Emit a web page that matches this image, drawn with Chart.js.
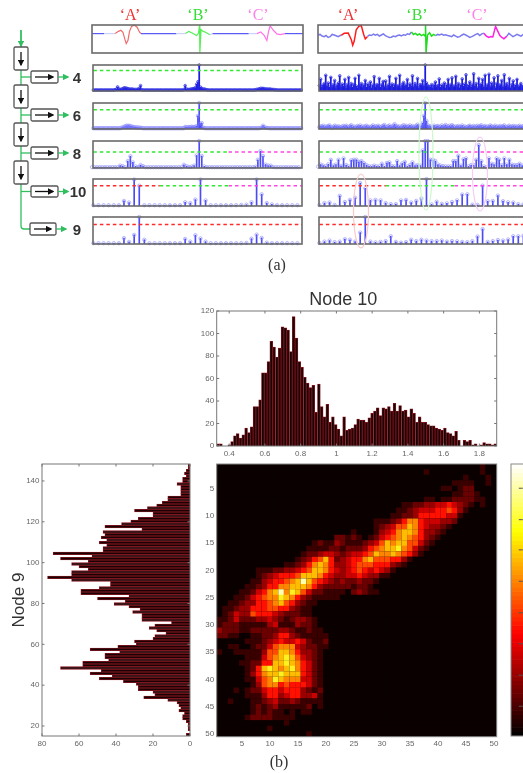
<!DOCTYPE html>
<html><head><meta charset="utf-8">
<script src="https://cdn.jsdelivr.net/npm/chart.js@4"></script>
<style>
html,body{margin:0;padding:0;background:#fff;overflow:hidden;width:523px;height:773px}
#stage{position:absolute;left:0;top:0;width:523px;height:773px;overflow:hidden;filter:blur(.55px)}
canvas{position:absolute}
.t{position:absolute;white-space:nowrap;font-family:"Liberation Serif",serif;line-height:1}
svg{position:absolute;left:0;top:0}
</style></head><body><div id="stage"></div>
<script>
/* ---------- (a) signals ---------- */
const leftSigX=[0,12,23,26.3,28.7,30.7,32.7,34,35.7,37.3,39.3,42,44.7,47.3,48.7,84,93,96.3,99.7,104,106,107,107.3,108.5,110.7,113,117.3,120,156,164,168,171.3,174,175.7,177.3,180.7,184,187.3,192,210];
const leftSigY=[69,69,69,77,81,74,48,33,44,77,95,99,93,74,69,69,69,77,71,62,71,100,0,83,77,74,65,69,69,69,75,63,44,77,97,80,68,65,69,69];
const rightSigX=[0,2,4,6,8,10,12,14,16,18,20,22,23,26,30,33,34.5,36,38,40.5,43,45.5,47,49,51,53,55,57,59,61,63,65,67,69,71,73,75,77,79,81,83,85,87,89,91,93,95,97,99,101,103,105,106.5,107,107.5,109,111,113,115,117,119,121,123,125,127,129,131,133,135,137,139,141,143,145,147,149,151,153,155,157,159,161,163,165,167.5,170,172,174,176.7,179,181,183,185,188,190,192,194,196,198,200,202,204,206,208,210];
const rightSigY=[64,66,60,58,62,55,58,66,64,61,58,62,63,70,71,48,27,42,83,95,98,65,50,58,64,62,67,63,66,60,64,68,62,58,55,56,60,58,62,64,61,65,63,68,66,75,66,70,64,68,62,66,60,100,0,64,72,60,66,62,66,64,67,63,65,62,60,58,64,60,56,58,63,67,64,60,55,58,62,66,69,62,68,70,60,55,58,57,95,77,62,55,50,60,70,64,58,62,66,63,60,65,68,62,64];
/* ---------- (a) stem rows, percent of panel height ---------- */
const left4=[3,3,3,3,3,3,3,3,3,3,3,3,3,3,3,3,3,4,6,15,
7,5,6,8,11,11,10,8,7,6,7,6,5,5,5,6,9,20,4,3,
3,3,3,3,3,3,3,3,3,3,3,3,3,3,3,3,3,3,3,3,
3,3,3,3,3,3,3,3,3,3,3,5,20,7,5,5,6,7,8,9,
12,25,35,100,14,9,6,7,5,4,3,3,3,3,3,3,3,3,3,3,
3,3,3,3,3,3,3,3,3,3,3,3,3,3,3,3,3,3,3,3,
3,3,3,3,3,3,3,4,5,6,7,9,9,9,8,7,7,6,7,6,
5,5,4,4,3,3,3,3,3,3,3,3,3,3,3,3,3,3,3,3,3,3,3,3];
const left6=[2,2,2,2,2,2,2,2,2,2,2,2,2,2,2,2,2,2,2,2,
2,2,4,5,7,10,12,11,12,10,9,7,6,6,5,5,4,4,3,2,
2,2,2,2,2,2,2,2,2,2,2,2,2,2,2,2,2,2,2,2,
2,2,2,2,2,2,2,2,2,2,2,2,7,6,5,7,6,8,7,6,
8,10,50,100,20,22,5,3,2,2,2,2,2,2,2,2,2,2,2,2,
2,2,2,2,2,2,2,2,2,2,2,2,2,2,2,2,2,2,2,2,
2,2,2,2,2,2,2,2,2,2,2,3,4,12,6,4,3,3,2,2,
2,2,2,2,2,2,2,2,2,2,2,2,2,2,2,2,2,2,2,2,2,2,2,2];
const left8=[2,2,2,2,2,2,2,2,2,2,2,8,6,2,25,43,20,5,3,10,6,2,2,2,2,2,2,2,2,2,2,2,2,2,2,2,11,6,3,4,8,46,100,44,5,2,2,2,2,2,2,2,2,2,2,2,2,2,2,2,2,2,2,2,4,30,62,44,12,8,8,3,2,2,2,2,2,2,2,2,2,2];
const left10=[2,2,2,2,2,2,18,12,98,75,2,2,2,2,2,2,2,2,13,10,23,98,20,2,2,2,2,2,2,3,4,13,98,43,10,5,2,2,2,2,2];
const left9=[2,2,2,2,2,2,21,7,33,100,15,2,2,2,2,2,2,2,18,8,32,20,8,2,2,2,2,2,2,2,3,19,34,22,4,2,2,2,2,2,2];
const right4=[20,45,15,22,28,60,18,30,14,52,16,24,40,12,22,30,58,16,26,18,
44,12,24,52,16,28,14,24,48,18,12,60,20,28,16,22,40,14,26,18,
34,12,22,55,16,24,20,48,14,24,36,16,38,12,22,56,18,26,14,24,
48,16,20,60,12,24,32,18,22,44,14,26,18,58,16,28,20,48,12,24,
22,40,18,100,30,20,16,14,24,12,22,34,16,20,46,14,22,18,30,12,
22,44,16,24,50,14,20,56,16,28,12,22,46,18,26,62,16,22,34,14,
24,66,18,28,12,48,20,26,44,14,60,16,24,64,16,30,20,50,12,28,
58,18,24,40,14,62,20,28,16,48,12,24,38,16,22,44,14,20,28,16,18,36,22,24];
const right6=[6,10,8,12,5,9,7,11,13,6,4,8,12,9,6,10,7,5,9,11,
7,12,8,5,10,14,6,9,4,8,11,7,13,6,9,5,10,12,6,8,
5,9,13,7,10,6,12,8,4,9,11,15,7,5,10,13,6,8,12,18,
7,11,6,9,5,10,14,8,12,6,9,13,7,11,5,8,12,16,10,9,
12,22,50,100,30,14,8,10,5,7,12,6,9,11,5,8,13,7,10,15,
6,9,12,8,14,10,5,9,7,11,6,8,13,6,9,5,7,10,12,6,
8,11,5,9,12,7,10,14,6,8,11,5,9,7,13,10,6,8,12,5,
9,7,11,6,10,13,8,5,9,12,6,8,11,7,10,5,9,12,6,8,11,7,9,6];
const right8=[4,12,8,5,13,30,8,12,30,7,35,10,5,28,30,30,22,25,17,10,5,5,8,5,5,15,5,18,20,6,5,25,8,16,22,5,10,20,8,10,8,65,100,100,30,30,25,12,8,6,5,5,5,25,25,45,8,32,35,5,10,10,30,85,25,5,2,35,15,12,35,30,10,35,12,30,12,10,10,15,8,10];
const right10=[3,10,12,3,37,14,22,30,85,65,20,22,20,10,6,6,20,22,12,18,27,100,5,15,7,9,14,20,42,43,4,3,75,17,18,38,17,13,12,6,5,4];
const right9=[3,8,12,6,8,17,15,8,42,100,8,5,7,10,28,7,4,6,15,10,15,12,10,10,12,8,10,9,7,6,10,27,55,7,10,14,12,16,28,28,30,22];
/* threshold heights, percent of panel */
const thresholdLevels=[79,74,58.5,75,72];
const thresholdBreaks=[13,26.5];
/* ---------- (b) histograms ---------- */
const node10Counts=[2,2,0,0,1,4,9,11,7,10,16,12,17,35,35,41,65,65,75,93,88,79,87,106,105,103,84,115,96,75,70,61,56,52,54,30,55,35,26,37,21,26,19,15,9,26,14,15,16,19,24,23,23,21,25,29,31,34,27,34,33,35,31,38,31,36,31,32,26,33,29,21,26,21,21,19,18,18,16,15,14,16,12,11,9,13,5,0,5,4,5,1,2,0,1,3,2,2,1,2];
const node9Counts=[1,1,2,3,2,4,4,7,5,5,5,5,12,12,15,18,23,30,20,20,28,32,37,46,26,47,46,48,45,49,45,47,47,74,53,70,55,64,60,55,64,64,77,64,43,43,49,59,59,33,50,35,41,33,27,31,26,26,26,10,19,22,18,13,19,20,30,29,39,54,38,46,46,44,58,58,70,48,54,42,49,36,29,28,28,20,19,25,12,7,6,5,6,3,4,4,2,1,1,1,0,2];
const node10Ticks=[0.33,1.897];
const node9Range=[15.1,148.3];
/* ---------- (b) 2-D histogram: 50 rows of 50 columns, level 0..a ---------- */
const heatRows=[
"0000000000 0000000000 0000000000 0000000000 0000000100",
"0000000000 0000000000 0000000000 0000000100 0000000100",
"0000000000 0000000000 0000000000 0000000000 0000100010",
"0000000000 0000000000 0000000000 0000000000 0011110010",
"0000000000 0000000000 0000000000 0000000000 1101220000",
"0000000000 0000000000 0000000000 0000000000 0011221000",
"0000000000 0000000000 0000000000 0000000110 1122221100",
"0000000000 0000000000 0000000000 0001122334 4543210100",
"0000000000 0000000000 0000000000 0011234445 5653100000",
"0000000000 0000000000 0000000000 0112235555 5441000000",
"0000000000 0000000000 0000000011 1235775444 3320000000",
"0000000000 0000000000 0000000012 3466875433 2100000000",
"0000000000 0000000000 0000100013 4578875332 1000000000",
"0000000000 0000000000 0221210124 5678765321 0000000000",
"0000000000 0000000121 1321112346 8788664210 0000000000",
"0000000000 0000001111 2212223567 8897642100 0000000000",
"0000000000 0000012234 4323445687 7876531000 0000000000",
"0000000000 0000123568 5234557866 6553100000 0000000000",
"0000000000 0011235787 5334566655 5321000000 0000000000",
"0000000111 2233456887 5434565454 3100000000 0000000000",
"0000000123 4555688875 4334454331 1000000000 0000000000",
"0000001134 55678a8654 3232232210 0000000000 0000000000",
"0000011235 5778887532 2222122100 0000000000 0000000000",
"0000112457 8a79864221 1110232110 0000000000 0000000000",
"0001124567 7987532111 1100000000 0000000000 0000000000",
"0011233556 7865321100 0000000000 0000000000 0000000000",
"0112335556 6553211000 0000000000 0000000000 0000000000",
"0124336555 4322211000 0000000000 0000000000 0000000000",
"1124222334 3212332100 0000000000 0000000000 0000000000",
"1222111113 4111322100 0000000000 0000000000 0000000000",
"3222112222 2332112110 0000000000 0000000000 0000000000",
"2211001122 3553211111 0000000000 0000000000 0000000000",
"0000011123 4544542112 0000000000 0000000000 0000000000",
"0011001224 6777432211 0000000000 0000000000 0000000000",
"1001111136 6887533210 0000000000 0000000000 0000000000",
"0000011146 7898643210 0000000000 0000000000 0000000000",
"0000112255 8898754210 0000000000 0000000000 0000000000",
"0000012589 8789754210 0000000000 0000000000 0000000000",
"0000013578 8988854210 0000000000 0000000000 0000000000",
"0000011467 9877744210 0000000000 0000000000 0000000000",
"0000001367 7565554210 0000000000 0000000000 0000000000",
"0001012245 5455532120 0000000000 0000000000 0000000000",
"0000011135 5345533410 0000000000 0000000000 0000000000",
"0010001123 4223211110 0000000000 0000000000 0000000000",
"0000001212 3111112010 0000000000 0000000000 0000000000",
"0000001212 1101011000 0000000000 0000000000 0000000000",
"0000012222 1111000000 0000000000 0000000000 0000000000",
"0000000000 0010000000 0000000000 0000000000 0000000000",
"0000000001 0000000000 0000000000 0000000000 0000000000",
"0000000000 0000001000 0000000000 0000000000 0000000000"];
const heatTicks=[5,10,15,20,25,30,35,40,45,50];
const colorbarTicks=[58.3,50.9,43.8,36.4,29,21.7,14.3,7];

/* ---------- helpers ---------- */
const stage=document.getElementById('stage');
Chart.defaults.animation=false;Chart.defaults.responsive=false;
Chart.defaults.plugins.legend.display=false;Chart.defaults.plugins.tooltip.enabled=false;
Chart.defaults.font.family='"Liberation Sans",Arial,sans-serif';
Chart.register({id:'frame',
 beforeDatasetsDraw(c,a,o){if(o.fill){const r=c.chartArea;c.ctx.save();c.ctx.fillStyle=o.fill;c.ctx.fillRect(r.left,r.top,r.right-r.left,r.bottom-r.top);c.ctx.restore();}},
 afterDraw(c,a,o){if(!o.color)return;const r=c.chartArea,x=c.ctx;x.save();x.strokeStyle=o.color;x.lineWidth=o.width||1;
  x.strokeRect(r.left,r.top,r.right-r.left,r.bottom-r.top);
  if(o.ticks){x.lineWidth=1;x.beginPath();const L=2.5;
   c.scales.x.ticks.forEach(t=>{const p=c.scales.x.getPixelForValue(t.value);x.moveTo(p,r.top);x.lineTo(p,r.top+L);x.moveTo(p,r.bottom);x.lineTo(p,r.bottom-L);});
   c.scales.y.ticks.forEach(t=>{const p=c.scales.y.getPixelForValue(t.value);x.moveTo(r.left,p);x.lineTo(r.left+L,p);x.moveTo(r.right,p);x.lineTo(r.right-L,p);});
   x.stroke();}
  x.restore();}});
function mk(l,t,w,h,cfg){const c=document.createElement('canvas');c.width=w;c.height=h;c.style.left=l+'px';c.style.top=t+'px';c.style.width=w+'px';c.style.height=h+'px';stage.appendChild(c);return new Chart(c,cfg);}
const fixW=n=>s=>{s.width=n;};const fixH=n=>s=>{s.height=n;};
const hidden=(min,max)=>({type:'linear',display:false,min,max,offset:false,grid:{display:false}});
const RED='#ff2a2a',GRN='#2fe82f',MAG='#ff45e0';
const M=4;
function panel(x,y,w,h,datasets,xmax){
 return mk(x-M,y-M,w+2*M,h+2*M,{type:'bar',data:{datasets},options:{layout:{padding:M},
  scales:{x:hidden(-0.07,xmax),y:hidden(-1,100)},
  plugins:{frame:{color:'#6a6a6a',width:1.6}}}});}
function stems(vals,step,off,dark){
 const pts=vals.map((v,i)=>({x:i*step+off,y:v}));
 return [{type:'line',data:pts,showLine:false,pointRadius:dark?1.3:1.7,pointBorderWidth:1,pointBackgroundColor:'rgba(0,0,0,0)',pointBorderColor:dark?'rgba(40,40,225,.75)':'rgba(130,130,255,.55)',clip:false,order:2},
         {type:'bar',data:pts,barThickness:dark?1.1:1,backgroundColor:dark?'#1c1ce0':'#4b4bf5',order:3}];}
function threshold(level,parts){
 return parts.map(p=>({type:'line',data:[{x:p[0],y:level},{x:p[1],y:level}],borderColor:p[2],borderDash:[3.5,3],borderWidth:1.5,pointRadius:0,order:1}));}
function sigColor(x,pale){
 if(x>=23&&x<48)return pale?'#f06a6a':'#ff1c1c';
 if(x>=93&&x<117)return pale?'#55ee55':'#1fdc1f';
 if(x>=164&&x<188)return pale?'#ff70e8':'#ff20e0';
 if(pale&&((x>=12&&x<23)||(x>=84&&x<93)||(x>=117&&x<120)||(x>=156&&x<164)||(x>=188&&x<192)))return '#cfd0ff';
 return pale?'#5a5af5':'#7a7af0';}
function signal(xs,ys,pale){
 return [{type:'line',data:xs.map((v,i)=>({x:v,y:ys[i]})),borderWidth:pale?1.2:1.5,pointRadius:0,segment:{borderColor:c=>sigColor(c.p0.parsed.x,pale)},borderColor:'#5a5af5',clip:false}];}

const colX=[92,318], panelW=211, maxI=40.9;
const rowY=[25,64,102,140,178,216], rowH=[28,28,28,29,29,29];
const tall=[[0,maxI,GRN]];
const thr8=[[0,thresholdBreaks[1],GRN],[thresholdBreaks[1],maxI,MAG]];
const thr10=[[0,thresholdBreaks[0],RED],[thresholdBreaks[0],thresholdBreaks[1],GRN],[thresholdBreaks[1],maxI,MAG]];
const thr9=[[0,maxI,RED]];
/* left column */
panel(colX[0],rowY[0],panelW,rowH[0],signal(leftSigX,leftSigY,true),210);
panel(colX[0],rowY[1],panelW,rowH[1],[...stems(left4,.25,0,true),...threshold(thresholdLevels[0],tall)],maxI);
panel(colX[0],rowY[2],panelW,rowH[2],[...stems(left6,.25,0,false),...threshold(thresholdLevels[1],tall)],maxI);
panel(colX[0],rowY[3],panelW,rowH[3],[...stems(left8,.5,-.25,false),...threshold(thresholdLevels[2],thr8)],maxI);
panel(colX[0],rowY[4],panelW,rowH[4],[...stems(left10,1,0,false),...threshold(thresholdLevels[3],thr10)],maxI);
panel(colX[0],rowY[5],panelW,rowH[5],[...stems(left9,1,0,false),...threshold(thresholdLevels[4],thr9)],maxI);
/* right column */
panel(colX[1],rowY[0],panelW,rowH[0],signal(rightSigX,rightSigY,false),210);
panel(colX[1],rowY[1],panelW,rowH[1],stems(right4,.25,0,true),maxI);
panel(colX[1],rowY[2],panelW,rowH[2],[...stems(right6,.25,0,false),...threshold(thresholdLevels[1],tall)],maxI);
panel(colX[1],rowY[3],panelW,rowH[3],[...stems(right8,.5,-.25,false),...threshold(thresholdLevels[2],thr8)],maxI);
panel(colX[1],rowY[4],panelW,rowH[4],[...stems(right10,1,0,false),...threshold(thresholdLevels[3],thr10)],maxI);
panel(colX[1],rowY[5],panelW,rowH[5],[...stems(right9,1,0,false),...threshold(thresholdLevels[4],thr9)],maxI);

/* ---------- (b) charts ---------- */
const tickStyle={color:'#666',font:{size:8},padding:2.5,maxRotation:0,autoSkip:false};
const noGrid={display:false,drawTicks:false};
const BAR_FILL='#1a0204',BAR_EDGE='#8c1822';
const binW=(node10Ticks[1]-node10Ticks[0])/node10Counts.length;
/* Node 10 histogram */
mk(190,289,333,175,{type:'bar',data:{datasets:[{data:node10Counts.map((v,i)=>({x:node10Ticks[0]+(i+.5)*binW,y:v})),backgroundColor:BAR_FILL,borderColor:BAR_EDGE,borderWidth:.8,barPercentage:1,categoryPercentage:1}]},
 options:{layout:{padding:{right:26.3}},
 scales:{x:{type:'linear',offset:false,min:node10Ticks[0],max:node10Ticks[1],grid:noGrid,border:{display:false},afterFit:fixH(18),ticks:{...tickStyle,stepSize:.2,includeBounds:false,callback:v=>String(Math.round(v*10)/10)}},
         y:{type:'linear',min:0,max:120,grid:noGrid,border:{display:false},afterFit:fixW(26.7),ticks:{...tickStyle,stepSize:20}}},
 plugins:{title:{display:true,text:'Node 10',color:'#333',font:{size:18,weight:'normal'},padding:{top:0,bottom:.4}},frame:{color:'#777',ticks:true}}}});
/* Node 9 histogram */
const binH=(node9Range[1]-node9Range[0])/node9Counts.length;
mk(0,455,200,300,{type:'bar',data:{datasets:[{data:node9Counts.map((v,i)=>({y:node9Range[1]-(i+.5)*binH,x:v})),backgroundColor:BAR_FILL,borderColor:BAR_EDGE,borderWidth:.8,barPercentage:1,categoryPercentage:1}]},
 options:{indexAxis:'y',layout:{padding:{top:9,right:10}},
 scales:{x:{type:'linear',reverse:true,min:0,max:80,grid:noGrid,border:{display:false},afterFit:fixH(19),ticks:{...tickStyle,stepSize:20}},
         y:{type:'linear',offset:false,min:node9Range[0],max:node9Range[1],grid:noGrid,border:{display:false},afterFit:fixW(42),ticks:{...tickStyle,stepSize:20,includeBounds:false},
            title:{display:true,text:'Node 9',color:'#333',font:{size:17},padding:{top:9,bottom:0}}}},
 plugins:{frame:{color:'#777',ticks:true}}}});
/* 2-D histogram */
const heatPalette=['#0a0000','#3a0000','#6a0000','#9a0000','#cc0000','#ff1000','#ff4a00','#ff8400','#ffbc00','#fff020','#ffffb0'];
const heatPts=[];
heatRows.forEach((s,r)=>{s.replace(/ /g,'').split('').forEach((ch,c)=>{heatPts.push({x:c+1,y:r+1,v:parseInt(ch,16)});});});
const setHeatTicks=s=>{s.ticks=heatTicks.map(v=>({value:v}));};
mk(190,455,320,300,{type:'scatter',data:{datasets:[{data:heatPts,pointStyle:'rect',pointRadius:3.97,pointBorderWidth:0,pointBackgroundColor:c=>heatPalette[c.raw?c.raw.v:0]}]},
 options:{layout:{padding:{top:9,right:13.3}},
 scales:{x:{type:'linear',min:.5,max:50.5,grid:noGrid,border:{display:false},afterFit:fixH(18.3),afterBuildTicks:setHeatTicks,ticks:{...tickStyle,callback:v=>String(v)}},
         y:{type:'linear',reverse:true,min:.5,max:50.5,grid:noGrid,border:{display:false},afterFit:fixW(26.7),afterBuildTicks:setHeatTicks,ticks:{...tickStyle,callback:v=>String(v)}}},
 plugins:{frame:{fill:'#0a0000',color:'#888'}}}});
/* colour bar */
const cbLevels=Array.from({length:64},(_,i)=>i);
const hot=t=>{const r=Math.min(1,t/.375),g=Math.max(0,Math.min(1,(t-.375)/.375)),b=Math.max(0,(t-.75)/.25);return `rgb(${r*255|0},${g*255|0},${b*255|0})`;};
mk(506,459,25,282,{type:'bar',data:{datasets:[
 {type:'scatter',data:colorbarTicks.map(v=>({x:.7,y:v})),pointStyle:'line',pointRadius:2,pointBorderColor:'#555',pointBorderWidth:1,order:0},
 {data:cbLevels.map(l=>({x:1,y:l+.5})),backgroundColor:cbLevels.map(l=>hot((l+.5)/64)),barPercentage:1,categoryPercentage:1,order:1}]},
 options:{indexAxis:'y',layout:{padding:{left:4.7,top:5,right:6,bottom:5}},
 scales:{x:hidden(0,1),y:hidden(0,64)},plugins:{frame:{color:'#888'}}}});

/* ---------- text ---------- */
function txt(s,x,y,size,color,extra){const d=document.createElement('div');d.className='t';d.textContent=s;d.style.left=x+'px';d.style.top=y+'px';d.style.fontSize=size+'px';d.style.color=color;if(extra)d.style.cssText+=extra;stage.appendChild(d);}
const T='transform:translateX(-50%);';
[['‘A’',130,'#ee3030'],['‘B’',198,'#33dd33'],['‘C’',258,'#ff80e8'],['‘A’',348,'#ee3030'],['‘B’',417,'#33dd33'],['‘C’',477,'#ff80e8']].forEach(a=>txt(a[0],a[1],7,16,a[2],T));
txt('(a)',277,257,16,'#333',T);
txt('(b)',279,754,16,'#333',T);

/* ---------- block diagram and ellipses ---------- */
const G='#2fbf5f';
const vBoxes=[[47,70],[85,108],[123,146],[161,184]];
const hBoxes=[[71,83,31,58,'4',77],[109,121,31,58,'6',77],[147,159,31,58,'8',77],[186,197,31,58,'10',78],[223,235,30,56,'9',77]];
let s=`<svg width="523" height="773" xmlns="http://www.w3.org/2000/svg"><defs>
<marker id="g" markerWidth="5" markerHeight="5" refX="4" refY="2.5" orient="auto"><path d="M0 0L5 2.5L0 5z" fill="${G}"/></marker>
<marker id="k" markerWidth="5" markerHeight="5" refX="4" refY="2.5" orient="auto"><path d="M0 0L5 2.5L0 5z" fill="#111"/></marker></defs>
<path d="M21 30V47M21 70V85M21 108V123M21 146V161M21 184V226Q21 229 24 229H30" stroke="${G}" stroke-width="1.3" fill="none"/>
<path d="M21 30V46" stroke="${G}" stroke-width="1.3" marker-end="url(#g)"/>`;
vBoxes.forEach(b=>{s+=`<rect x="14" y="${b[0]}" width="14" height="${b[1]-b[0]}" rx="1.5" fill="#fff" stroke="#555" stroke-width="1.3"/><path d="M21 ${b[0]+5}V${b[1]-5}" stroke="#111" stroke-width="1.3" marker-end="url(#k)"/>`;});
hBoxes.forEach((b,i)=>{const m=(b[0]+b[1])/2;
 if(i<4)s+=`<path d="M21 ${m}H31" stroke="${G}" stroke-width="1.3"/>`;
 s+=`<rect x="${b[2]}" y="${b[0]}" width="${b[3]-b[2]}" height="${b[1]-b[0]}" rx="1.5" fill="#fff" stroke="#555" stroke-width="1.3"/><path d="M${b[2]+4} ${m}H${b[3]-5}" stroke="#111" stroke-width="1.3" marker-end="url(#k)"/><path d="M${b[3]} ${m}H${b[3]+10}" stroke="${G}" stroke-width="1.3" marker-end="url(#g)"/><text x="${b[5]}" y="${m+5.5}" font-family="Liberation Sans,Arial,sans-serif" font-weight="bold" font-size="15" fill="#333" text-anchor="middle">${b[4]}</text>`;});
[[361,211,7.5,37,'#f8caca'],[426,153.5,7,56.5,'#cdf7cd'],[480,174,7.5,37,'#f5cdf5']].forEach(e=>{s+=`<ellipse cx="${e[0]}" cy="${e[1]}" rx="${e[2]}" ry="${e[3]}" fill="none" stroke="${e[4]}" stroke-width="1.2"/>`;});
s+='</svg>';
stage.insertAdjacentHTML('beforeend',s);
</script></body></html>
